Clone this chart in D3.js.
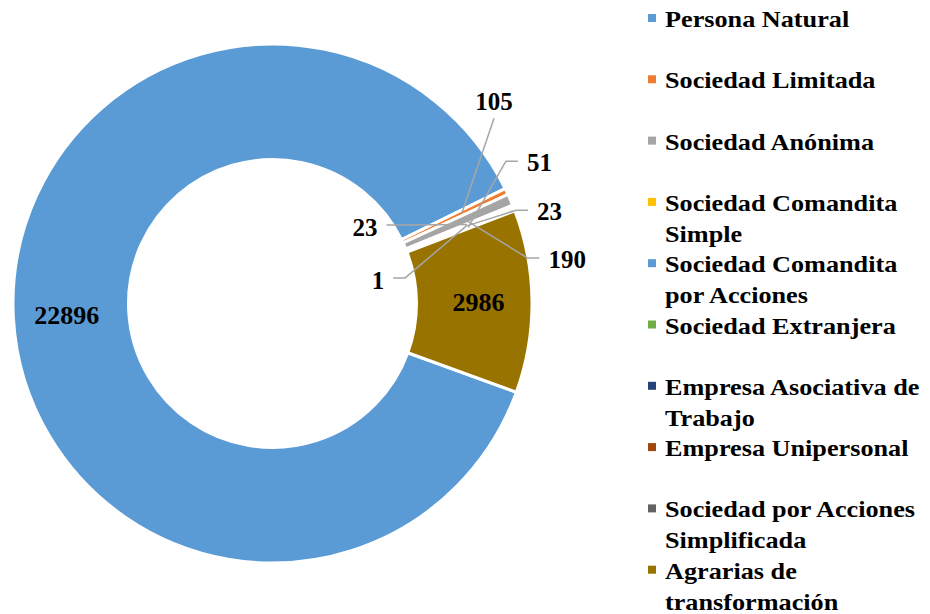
<!DOCTYPE html>
<html lang="es">
    <head>
        <meta charset="utf-8">
        <title>Tipos de empresa</title>
        <script src="https://d3js.org/d3.v7.min.js"></script>
        <style>
            body { margin: 0; background: #fff; }
        </style>
    </head>
    <body>
        <script type="text/javascript">

        	var w = 930;
        	var h = 614;
        	var serif = "'Liberation Serif', 'Times New Roman', serif";

        	// categories (legend lines split where the original wraps)
        	var categories = [
        		["Persona Natural"],
        		["Sociedad Limitada"],
        		["Sociedad Anónima"],
        		["Sociedad Comandita", "Simple"],
        		["Sociedad Comandita", "por Acciones"],
        		["Sociedad Extranjera"],
        		["Empresa Asociativa de", "Trabajo"],
        		["Empresa Unipersonal"],
        		["Sociedad por Acciones", "Simplificada"],
        		["Agrarias de", "transformación"]
        	];
        	var values = [22896, 105, 190, 23, 1, 0, 0, 23, 51, 2986];
        	var colors = ["#5b9bd5", "#ed7d31", "#a5a5a5", "#ffc000", "#5b9bd5",
        	              "#70ad47", "#264478", "#9e480e", "#636363", "#997300"];

        	// where the small outside labels sit: angle (deg, clockwise from top), distance from centre, leader side
        	var labelSpots = {
        		1: {a: 47.6, r: 300, side: "below"},
        		2: {a: 81.4, r: 298, side: "left"},
        		3: {a: 50.4, r: 120, side: "right"},
        		4: {a: 77.4, r: 108, side: "right"},
        		7: {a: 71.6, r: 292, side: "left"},
        		8: {a: 62.1, r: 302, side: "left"}
        	};

        	var cx = 272.5, cy = 303.5;
        	var outerR = 259.5, innerR = 144;
        	var rad = Math.PI / 180;

        	var svg = d3.select("body")
        				.append("svg")
        				.attr("width", w)
        				.attr("height", h)
        				.attr("font-family", serif)
        				.attr("font-weight", "bold");

        	var g = svg.append("g").attr("transform", "translate(" + cx + "," + cy + ")");

        	var pie = d3.pie()
        				.sort(null)
        				.value(function(d) { return d; })
        				.startAngle(110 * rad)
        				.endAngle(470 * rad);

        	var arcs = pie(values);

        	var arc = d3.arc().innerRadius(innerR).outerRadius(outerR);
        	var midArc = d3.arc().innerRadius(206).outerRadius(206);
        	var anchorArc = d3.arc().innerRadius(210).outerRadius(210);

        	g.selectAll("path.slice")
        	 .data(arcs)
        	 .enter()
        	 .append("path")
        	 .attr("class", "slice")
        	 .attr("d", arc)
        	 .attr("fill", function(d, i) { return colors[i]; })
        	 .attr("stroke", "#fff")
        	 .attr("stroke-width", 3);

        	// labels inside the big slices
        	g.selectAll("text.inner")
        	 .data(arcs.filter(function(d) { return d.value > 1000; }))
        	 .enter()
        	 .append("text")
        	 .attr("class", "inner")
        	 .attr("x", function(d) { return midArc.centroid(d)[0]; })
        	 .attr("y", function(d) { return midArc.centroid(d)[1]; })
        	 .attr("dy", "0.35em")
        	 .attr("text-anchor", "middle")
        	 .attr("font-size", 26)
        	 .text(function(d) { return d.value; });

        	// small slices: label + leader line
        	arcs.forEach(function(d, i) {
        		var spot = labelSpots[i];
        		if (!spot || d.value === 0) return;
        		var lx = Math.sin(spot.a * rad) * spot.r;
        		var ly = -Math.cos(spot.a * rad) * spot.r;
        		var t = g.append("text")
        				 .attr("x", lx)
        				 .attr("y", ly)
        				 .attr("dy", "0.35em")
        				 .attr("text-anchor", "middle")
        				 .attr("font-size", 25)
        				 .text(d.value);
        		var tw = t.node().getComputedTextLength();
        		var anchor = anchorArc.centroid(d);
        		var pts;
        		if (spot.side === "below") {
        			pts = [[lx, ly + 17], anchor];
        		} else if (spot.side === "left") {
        			var x0 = lx - tw / 2 - 9;
        			pts = [[x0, ly - 1], [x0 - 12, ly - 1], anchor];
        		} else {
        			var x1 = lx + tw / 2 + 9;
        			pts = [[x1, ly - 2], [x1 + 12, ly - 2], anchor];
        		}
        		g.insert("path", "text")
        		 .attr("d", d3.line()(pts))
        		 .attr("fill", "none")
        		 .attr("stroke", "#a6a6a6")
        		 .attr("stroke-width", 1.5);
        	});

        	// legend (the original text is drawn a little wide, hence the x stretch)
        	var legend = svg.append("g");
        	var rowStep = 61.3;

        	var items = legend.selectAll("g.item")
        					  .data(categories)
        					  .enter()
        					  .append("g")
        					  .attr("class", "item")
        					  .attr("transform", function(d, i) { return "translate(0," + (27 + i * rowStep) + ")"; });

        	items.append("rect")
        		 .attr("x", 648)
        		 .attr("y", -13)
        		 .attr("width", 8)
        		 .attr("height", 8)
        		 .attr("fill", function(d, i) { return colors[i]; });

        	items.append("text")
        		 .attr("transform", "translate(665,0) scale(1.14,1)")
        		 .attr("font-size", 23)
        		 .selectAll("tspan")
        		 .data(function(d) { return d; })
        		 .enter()
        		 .append("tspan")
        		 .attr("x", 0)
        		 .attr("y", function(d, j) { return j * 31; })
        		 .text(function(d) { return d; });

		</script>
    </body>
</html>
